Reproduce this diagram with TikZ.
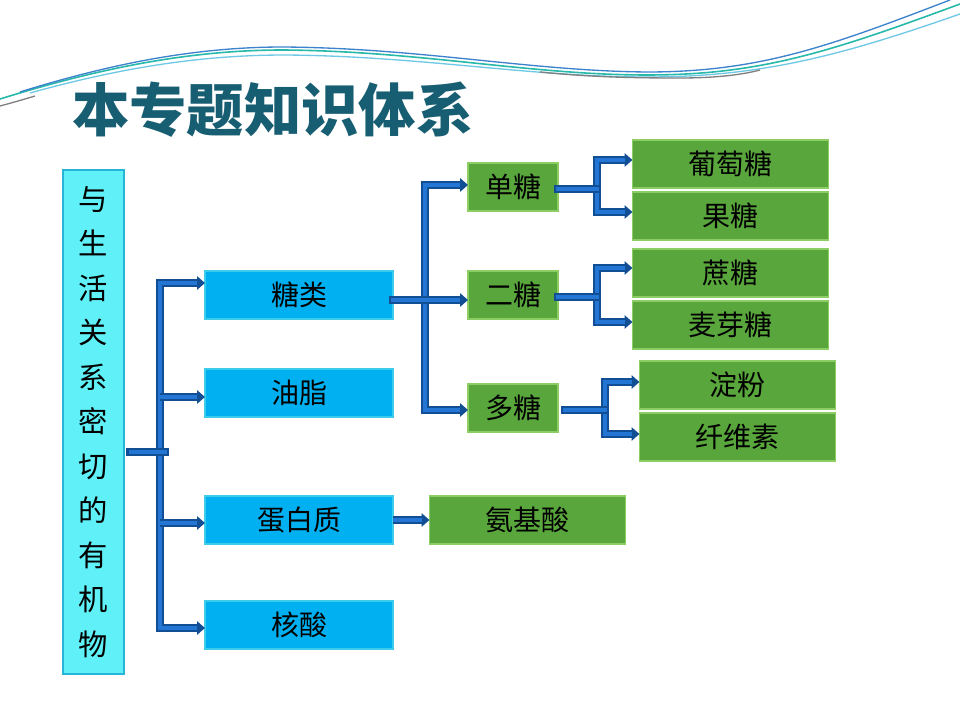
\documentclass[tikz,border=0pt]{standalone}
\usepackage{fontspec}
\setmainfont{Noto Sans CJK SC}
\usepackage{tikz}
\usetikzlibrary{arrows.meta}

\definecolor{titlecol}{RGB}{24,94,114}
\definecolor{sidefill}{RGB}{96,240,247}
\definecolor{sideline}{RGB}{40,180,215}
\definecolor{bluefill}{RGB}{0,176,240}
\definecolor{blueline}{RGB}{60,205,235}
\definecolor{greenfill}{RGB}{88,166,60}
\definecolor{greenline}{RGB}{140,205,100}
\definecolor{linkdark}{RGB}{18,78,148}
\definecolor{linkcol}{RGB}{36,118,212}
\definecolor{waveteal}{RGB}{40,185,170}
\definecolor{waveblue}{RGB}{60,130,205}
\definecolor{wavesky}{RGB}{110,200,230}

\tikzset{
  box/.style={rectangle,inner sep=0pt,outer sep=0pt,minimum height=36pt,
    font=\fontsize{21}{21}\selectfont},
  bluebox/.style={box,fill=bluefill,draw=blueline,line width=0.8pt,minimum width=141pt},
  greenbox/.style={box,fill=greenfill,draw=greenline,line width=0.8pt,minimum width=67.5pt},
  leafbox/.style={greenbox,minimum width=147pt},
  link/.style={draw=linkdark,line width=6.5pt,line cap=rect,
    postaction={draw=linkcol,line width=3pt}},
  arrow/.style={draw=linkdark,line width=6.5pt,-{Triangle[length=6pt,width=10pt]},
    postaction={draw=linkcol,line width=3pt,arrows=-,shorten >=6pt}}
}

\begin{document}
\begin{tikzpicture}[x=0.75pt,y=-0.75pt]
  \useasboundingbox (0,0) rectangle (960,720);

  % wave lines at the top
  \draw[waveteal,line width=1.2pt] (0,99) .. controls (100,68) and (190,50) .. (283,50)
      .. controls (420,51) and (530,75) .. (647,75) .. controls (760,75) and (830,52) .. (960,4);
  \draw[waveblue,line width=1pt] (20,92) .. controls (110,64) and (195,47) .. (283,47)
      .. controls (420,48) and (530,71) .. (647,72) .. controls (760,72) and (830,46) .. (950,0);
  \draw[wavesky,line width=1pt] (30,93) .. controls (120,68) and (200,55) .. (285,55)
      .. controls (420,56) and (530,77) .. (647,77) .. controls (760,77) and (840,56) .. (960,14);
  \draw[gray,line width=1pt] (0,106) .. controls (15,102) and (25,99) .. (35,96);
  \draw[gray,line width=1pt] (540,72) .. controls (590,77) and (630,78) .. (680,78)
      .. controls (720,78) and (745,74) .. (760,70);

  % title
  \node[titlecol,font=\fontsize{43}{43}\selectfont\bfseries,anchor=west,inner sep=0pt]
      (title) at (72,110) {本专题知识体系};

  % the root box
  \node[rectangle,fill=sidefill,draw=sideline,line width=0.8pt,inner sep=0pt,
      minimum width=45.75pt,minimum height=378pt,align=center,
      font=\fontsize{22}{33.4}\selectfont] (side) at (93.5,422)
      {与\\生\\活\\关\\系\\密\\切\\的\\有\\机\\物};

  % first level
  \node[bluebox] (tang) at (299,295) {糖类};
  \node[bluebox] (youzhi) at (299,393) {油脂};
  \node[bluebox] (danbai) at (299,520) {蛋白质};
  \node[bluebox] (hesuan) at (299,625) {核酸};

  % sugars
  \node[greenbox] (dan) at (513,187) {单糖};
  \node[greenbox] (er) at (513,295) {二糖};
  \node[greenbox] (duo) at (513,408) {多糖};

  \node[leafbox] (putao) at (730.5,164) {葡萄糖};
  \node[leafbox] (guo) at (730.5,216) {果糖};
  \node[leafbox] (zhe) at (730.5,273) {蔗糖};
  \node[leafbox] (maiya) at (730.5,325) {麦芽糖};
  \node[leafbox] (dianfen) at (737.5,385) {淀粉};
  \node[leafbox] (xianwei) at (737.5,437) {纤维素};
  \node[leafbox] (anji) at (527.5,520) {氨基酸};

  % joints
  \coordinate (m0) at (165,452);
  \coordinate (m1) at (160,283);
  \coordinate (m2) at (160,397);
  \coordinate (m3) at (160,523);
  \coordinate (m4) at (160,628);
  \coordinate (s0) at (428,300);
  \coordinate (s1) at (425,185);
  \coordinate (s2) at (425,300);
  \coordinate (s3) at (425,410);
  \coordinate (d0) at (597,189);
  \coordinate (d1) at (597,160);
  \coordinate (d2) at (597,212);
  \coordinate (e0) at (597,297);
  \coordinate (e1) at (597,268);
  \coordinate (e2) at (597,322);
  \coordinate (f0) at (605,410);
  \coordinate (f1) at (605,382);
  \coordinate (f2) at (605,434);

  % the brackets
  \draw[arrow] (m2) -- (m1) -- (tang.west |- m1);
  \draw[arrow] (m2) -- (m4) -- (hesuan.west |- m4);
  \draw[arrow] (m2) -- (youzhi.west |- m2);
  \draw[arrow] (m3) -- (danbai.west |- m3);
  \draw[link] (side.east |- m0) ++(6,0) -- (m0);

  \draw[arrow] (s2) -- (s1) -- (dan.west |- s1);
  \draw[arrow] (s2) -- (s3) -- (duo.west |- s3);
  \draw[link] (tang.east |- s0) -- (s0);
  \draw[arrow] (s2) -- (er.west |- s2);

  \draw[arrow] (d0) -- (d1) -- (putao.west |- d1);
  \draw[arrow] (d0) -- (d2) -- (guo.west |- d2);
  \draw[link] (dan.east |- d0) -- (d0);

  \draw[arrow] (e0) -- (e1) -- (zhe.west |- e1);
  \draw[arrow] (e0) -- (e2) -- (maiya.west |- e2);
  \draw[link] (er.east |- e0) -- (e0);

  \draw[arrow] (f0) -- (f1) -- (dianfen.west |- f1);
  \draw[arrow] (f0) -- (f2) -- (xianwei.west |- f2);
  \draw[link] (duo.east |- f0) ++(7,0) -- (f0);

  \draw[arrow] (danbai) -- (anji);
\end{tikzpicture}
\end{document}
